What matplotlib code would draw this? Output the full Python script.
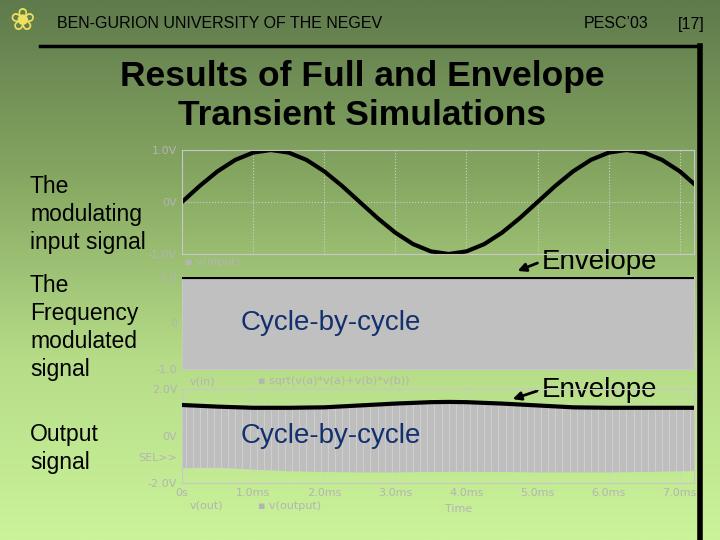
import numpy as np
import matplotlib
matplotlib.use("Agg")
import matplotlib.pyplot as plt
from matplotlib.colors import LinearSegmentedColormap

# ---- data ----
t_in = [0, 0.25, 0.5, 0.75, 1.0, 1.25, 1.5, 1.75, 2.0, 2.25, 2.5, 2.75, 3.0, 3.25, 3.5,
        3.75, 4.0, 4.25, 4.5, 4.75, 5.0, 5.25, 5.5, 5.75, 6.0, 6.25, 6.5, 6.75, 7.0, 7.2]
v_input = [0.0, 0.31, 0.59, 0.81, 0.95, 1.0, 0.95, 0.81, 0.59, 0.31, 0.0, -0.31, -0.59, -0.81, -0.95,
           -1.0, -0.95, -0.81, -0.59, -0.31, 0.0, 0.31, 0.59, 0.81, 0.95, 1.0, 0.95, 0.81, 0.59, 0.35]
t_mid = [0, 7.2]
env_mid = [1.0, 1.0]
low_mid = [-0.97, -0.97]
t_out = [0, 0.5, 1.0, 1.5, 2.0, 2.5, 3.0, 3.5, 3.75, 4.0, 4.5, 5.0, 5.5, 6.0, 6.5, 7.0, 7.2]
env_out = [1.32, 1.25, 1.2, 1.2, 1.22, 1.3, 1.38, 1.44, 1.45, 1.44, 1.38, 1.3, 1.22, 1.2, 1.2, 1.2, 1.2]
low_out = [-1.32, -1.3, -1.38, -1.45, -1.48, -1.5, -1.5, -1.48, -1.47, -1.47, -1.48, -1.5, -1.5, -1.5, -1.48, -1.45, -1.44]
xticks = [0, 1, 2, 3, 4, 5, 6, 7]
xticklabels = ["0s", "1.0ms", "2.0ms", "3.0ms", "4.0ms", "5.0ms", "6.0ms", "7.0ms"]

W, H = 720, 540
fig = plt.figure(figsize=(7.2, 5.4), dpi=100)
bg = fig.add_axes([0, 0, 1, 1])
cmap = LinearSegmentedColormap.from_list("g", ["#5f7a4c", "#86a862", "#b6dc88", "#caf39a"])
bg.imshow(np.linspace(0, 1, 256).reshape(-1, 1), aspect="auto", cmap=cmap, extent=[0, W, H, 0])
bg.set_xlim(0, W); bg.set_ylim(H, 0); bg.axis("off")
bg.plot([40, 700], [46, 46], color="black", lw=2.5)
bg.plot([700, 700], [46, 540], color="black", lw=4)
hf = dict(fontsize=11.5, va="center", family="Liberation Sans")
bg.text(57, 24, "BEN-GURION UNIVERSITY OF THE NEGEV", **hf)
bg.text(584, 24, "PESC\u201903", **hf)
bg.text(678, 24, "[17]", **hf)
bg.text(22, 22, "\u2740", fontsize=22, color="#f0e060", ha="center", va="center")
bg.text(362, 96, "Results of Full and Envelope\nTransient Simulations", fontsize=25.5, fontweight="bold",
        ha="center", va="center", family="Liberation Sans", linespacing=1.25)
lab = dict(fontsize=16.5, family="Liberation Sans", va="top", linespacing=1.28)
bg.text(30, 175, "The\nmodulating\ninput signal", **lab)
bg.text(30, 274, "The\nFrequency\nmodulated\nsignal", **lab)
bg.text(30, 423, "Output\nsignal", **lab)

gc = "#b4b4b4"
def mk(rect, ylim, yt, ytl):
    ax = fig.add_axes(rect)
    ax.set_facecolor("none")
    ax.set_xlim(0, 7.2); ax.set_ylim(*ylim)
    ax.set_xticks(xticks); ax.set_yticks(yt)
    ax.set_yticklabels(ytl)
    ax.tick_params(colors=gc, labelsize=8, length=0, labelcolor=gc)
    ax.grid(True, color="#cfcfcf", ls=":", lw=0.8)
    for s in ax.spines.values():
        s.set_color("#c8c8c8"); s.set_linewidth(0.8)
    return ax

a1 = mk([182/W, 1-254/H, 512/W, 104/H], (-1.0, 1.0), [1.0, 0, -1.0], ["1.0V", "0V", "-1.0V"])
a1.plot(t_in, v_input, color="black", lw=3)
a1.set_xticklabels([])
a2 = mk([182/W, 1-369/H, 512/W, 92/H], (-1.0, 1.0), [1.0, 0, -1.0], ["1.0", "0", "-1.0"])
a2.fill_between(t_mid, low_mid, env_mid, color="#c0c0c0", zorder=2)
a2.plot(t_mid, env_mid, color="black", lw=3, zorder=3)
a2.set_xticklabels([])
cf = dict(fontsize=20, color="#13306e", va="center", family="Liberation Sans", zorder=4)
a2.text(0.82, 0, "Cycle-by-cycle", **cf)
a3 = mk([182/W, 1-483/H, 512/W, 94/H], (-2.0, 2.0), [2.0, 0, -0.9, -2.0], ["2.0V", "0V", "SEL>>", "-2.0V"])
a3.fill_between(t_out, low_out, env_out, color="#bebebe", zorder=2)
a3.vlines(np.arange(0.05, 7.2, 0.1), -1.5, 1.4, color="#d2d2d2", lw=0.6, zorder=2)
a3.plot(t_out, env_out, color="black", lw=3, zorder=3)
a3.set_xticklabels(xticklabels)
a3.text(0.82, 0, "Cycle-by-cycle", **cf)

g = dict(fontsize=8, color=gc)
bg.text(185, 262, "\u25aa v(input)", va="center", **g)
bg.text(190, 381, "v(in)", va="center", **g)
bg.text(258, 381, "\u25aa sqrt(v(a)*v(a)+v(b)*v(b))", va="center", **g)
bg.text(190, 506, "v(out)", va="center", **g)
bg.text(258, 506, "\u25aa v(output)", va="center", **g)
bg.text(445, 509, "Time", va="center", **g)

for y, tip in [(262, (515, 272)), (390, (510, 400))]:
    bg.text(542, y, "Envelope", fontsize=20, va="center", family="Liberation Sans")
    bg.annotate("", xy=tip, xytext=(540, y),
                arrowprops=dict(arrowstyle="-|>", color="black", lw=2, mutation_scale=12))

fig.savefig("out.png", dpi=100)
